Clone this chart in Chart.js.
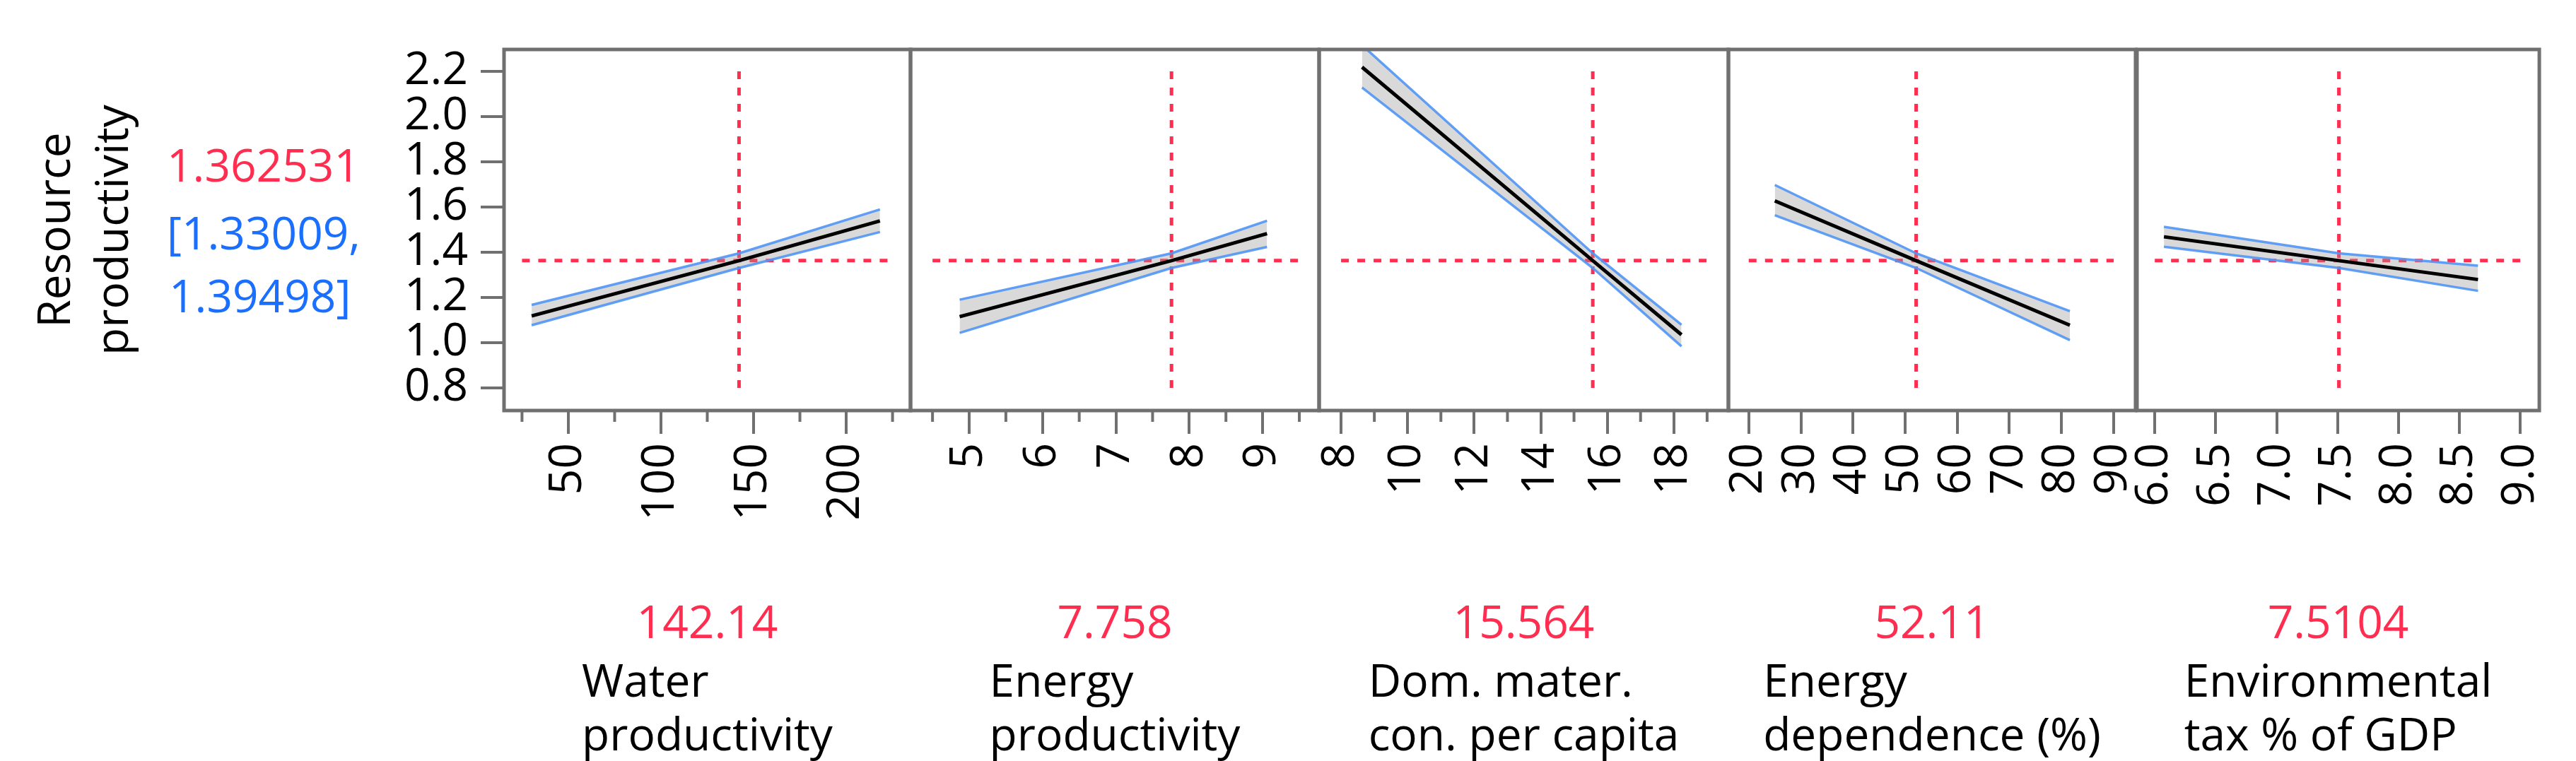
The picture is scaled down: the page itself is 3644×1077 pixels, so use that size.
<!DOCTYPE html>
<html>
<head>
<meta charset="utf-8">
<script src="https://cdn.jsdelivr.net/npm/chart.js@4.4.1/dist/chart.umd.min.js"></script>
<style>
  html, body { margin: 0; padding: 0; background: #fff; }
  #wrap { position: relative; width: 3644px; height: 1077px; overflow: hidden; }
  #wrap canvas { position: absolute; top: 0; }
</style>
</head>
<body>
<div id="wrap"></div>
<script>
// Prediction at the current settings and its confidence interval
const predicted = 1.362531;
const ciLow = 1.33009;
const ciHigh = 1.39498;

// Y axis ticks (shared by all panels)
const yTicks = [0.8, 1.0, 1.2, 1.4, 1.6, 1.8, 2.0, 2.2];
const yLabels = ['0.8', '1.0', '1.2', '1.4', '1.6', '1.8', '2.0', '2.2'];

// Factors
const factorNames = [
    ['Water', 'productivity'],
    ['Energy', 'productivity'],
    ['Dom. mater.', 'con. per capita'],
    ['Energy', 'dependence (%)'],
    ['Environmental', 'tax % of GDP']
];
const currentValues = [142.14, 7.758, 15.564, 52.11, 7.5104];
const currentLabels = ['142.14', '7.758', '15.564', '52.11', '7.5104'];

// Profile traces: x at (min, current, max), fitted value and CI bounds
const waterX = [30.2, 142.14, 218.2];
const waterFit = [1.118, predicted, 1.538];
const waterUpper = [1.167, ciHigh, 1.589];
const waterLower = [1.077, ciLow, 1.489];

const energyX = [4.87, 7.758, 9.06];
const energyFit = [1.115, predicted, 1.482];
const energyUpper = [1.19, ciHigh, 1.539];
const energyLower = [1.043, ciLow, 1.423];

const domX = [8.63, 15.564, 18.23];
const domFit = [2.218, predicted, 1.035];
const domUpper = [2.315, ciHigh, 1.079];
const domLower = [2.128, ciLow, 0.984];

const depX = [25.0, 52.11, 81.6];
const depFit = [1.627, predicted, 1.077];
const depUpper = [1.697, ciHigh, 1.139];
const depLower = [1.563, ciLow, 1.011];

const taxX = [6.075, 7.5104, 8.652];
const taxFit = [1.468, predicted, 1.279];
const taxUpper = [1.512, ciHigh, 1.34];
const taxLower = [1.424, ciLow, 1.229];

// X axis ticks
const waterTicks = [50, 100, 150, 200];
const waterTickLabels = ['50', '100', '150', '200'];
const waterMinor = [25, 75, 125, 175, 225];

const energyTicks = [5, 6, 7, 8, 9];
const energyTickLabels = ['5', '6', '7', '8', '9'];
const energyMinor = [4.5, 5.5, 6.5, 7.5, 8.5, 9.5];

const domTicks = [8, 10, 12, 14, 16, 18];
const domTickLabels = ['8', '10', '12', '14', '16', '18'];
const domMinor = [9, 11, 13, 15, 17, 19];

const depTicks = [20, 30, 40, 50, 60, 70, 80, 90];
const depTickLabels = ['20', '30', '40', '50', '60', '70', '80', '90'];
const depMinor = [];

const taxTicks = [6.0, 6.5, 7.0, 7.5, 8.0, 8.5, 9.0];
const taxTickLabels = ['6.0', '6.5', '7.0', '7.5', '8.0', '8.5', '9.0'];
const taxMinor = [];

const panels = [
    { x: waterX, fit: waterFit, upper: waterUpper, lower: waterLower, ticks: waterTicks, labels: waterTickLabels, minor: waterMinor },
    { x: energyX, fit: energyFit, upper: energyUpper, lower: energyLower, ticks: energyTicks, labels: energyTickLabels, minor: energyMinor },
    { x: domX, fit: domFit, upper: domUpper, lower: domLower, ticks: domTicks, labels: domTickLabels, minor: domMinor },
    { x: depX, fit: depFit, upper: depUpper, lower: depLower, ticks: depTicks, labels: depTickLabels, minor: depMinor },
    { x: taxX, fit: taxFit, upper: taxUpper, lower: taxLower, ticks: taxTicks, labels: taxTickLabels, minor: taxMinor }
];

// Layout (pixels) and axis ranges
const W = 3644, H = 1077;
const edges = [713, 1288, 1866, 2445, 3023, 3598];
const plotTop = 70, plotBottom = 581;
const xRanges = [[15.3, 234.7], [4.2, 9.77], [7.34, 19.64], [16.1, 94.2], [5.854, 9.155]];
const yRange = [0.70, 2.296];

const FONT = '"Open Sans", "Noto Sans", sans-serif';
const FS = 64;
const GRAY = '#707070';
const RED = '#ff2d4f';
const BLUE_TEXT = '#1a6fff';
const BLUE_LINE = 'rgba(80, 150, 245, 0.9)';
const BAND = 'rgba(150, 150, 150, 0.36)';

Chart.defaults.font.family = FONT;
Chart.defaults.font.size = FS;
Chart.defaults.color = '#000';

const pts = (xs, ys) => xs.map((v, i) => ({ x: v, y: ys[i] }));

const profilePlugin = {
    id: 'profile',
    afterDraw(chart, args, opts) {
        const { ctx, chartArea: a, scales: { x } } = chart;
        ctx.save();
        ctx.strokeStyle = GRAY;
        ctx.lineWidth = 4;
        // minor ticks
        opts.minor.forEach(v => {
            const px = x.getPixelForValue(v);
            ctx.beginPath();
            ctx.moveTo(px, a.bottom);
            ctx.lineTo(px, a.bottom + 16);
            ctx.stroke();
        });
        // frame
        ctx.lineWidth = 5;
        ctx.strokeRect(a.left, a.top, a.right - a.left, a.bottom - a.top);

        // current value and factor name under the panel
        const cx = (a.left + a.right) / 2;
        ctx.font = FS + 'px ' + FONT;
        ctx.textBaseline = 'alphabetic';
        ctx.fillStyle = RED;
        ctx.textAlign = 'center';
        ctx.fillText(opts.value, cx, 903);
        ctx.fillStyle = '#000';
        ctx.textAlign = 'left';
        const wMax = Math.max(...opts.name.map(s => ctx.measureText(s).width));
        opts.name.forEach((s, k) => ctx.fillText(s, cx - wMax / 2, 986 + k * 76));

        // prediction readout beside the first panel
        if (opts.readout) {
            ctx.fillStyle = RED;
            ctx.fillText(String(predicted), 236, 257);
            ctx.fillStyle = BLUE_TEXT;
            ctx.fillText('[' + ciLow + ',', 236, 353);
            ctx.fillText(ciHigh + ']', 239, 442);
        }
        ctx.restore();
    }
};

const wrap = document.getElementById('wrap');

panels.forEach((p, i) => {
    const first = i === 0;
    const left = first ? 0 : edges[i] - 60;
    const right = edges[i + 1] + 60;
    const cv = document.createElement('canvas');
    cv.width = right - left;
    cv.height = H;
    cv.style.left = left + 'px';
    cv.style.width = (right - left) + 'px';
    cv.style.height = H + 'px';
    wrap.appendChild(cv);

    const allX = p.ticks.concat(p.minor);
    const xStart = Math.min(...allX), xEnd = Math.max(...allX);
    const cur = currentValues[i];

    const yScale = {
        type: 'linear',
        min: yRange[0], max: yRange[1],
        display: first
    };
    if (first) {
        Object.assign(yScale, {
            afterBuildTicks: s => { s.ticks = yTicks.map(v => ({ value: v })); },
            afterFit: s => { s.width = edges[0]; },
            border: { display: false },
            grid: { drawOnChartArea: false, drawTicks: true, tickLength: 33, tickWidth: 4, lineWidth: 4, tickColor: GRAY },
            ticks: { autoSkip: false, padding: 18, callback: (v, k) => yLabels[k] },
            title: {
                display: true,
                text: ['Resource', 'productivity'],
                font: { size: FS, lineHeight: '82px' },
                padding: { top: 40, bottom: 0 }
            }
        });
    }

    new Chart(cv, {
        type: 'line',
        data: {
            datasets: [
                {   // horizontal reference at the prediction
                    data: [{ x: xStart, y: predicted }, { x: xEnd, y: predicted }],
                    borderColor: RED, borderWidth: 5, borderDash: [11, 12], order: 5
                },
                {   // vertical reference at the current setting
                    data: [{ x: cur, y: yTicks[0] }, { x: cur, y: yTicks[yTicks.length - 1] }],
                    borderColor: RED, borderWidth: 5, borderDash: [11, 12], order: 5
                },
                {
                    data: pts(p.x, p.lower),
                    borderColor: BLUE_LINE, borderWidth: 3.5, order: 3
                },
                {
                    data: pts(p.x, p.upper),
                    borderColor: BLUE_LINE, borderWidth: 3.5, order: 3,
                    fill: '-1', backgroundColor: BAND
                },
                {
                    data: pts(p.x, p.fit),
                    borderColor: '#000', borderWidth: 5, order: 1
                }
            ]
        },
        options: {
            responsive: false,
            animation: false,
            events: [],
            elements: { point: { radius: 0 }, line: { tension: 0, fill: false } },
            layout: { padding: { top: plotTop, bottom: 0, left: first ? 0 : 60, right: 60 } },
            scales: {
                x: {
                    type: 'linear',
                    min: xRanges[i][0], max: xRanges[i][1],
                    afterBuildTicks: s => { s.ticks = p.ticks.map(v => ({ value: v })); },
                    afterFit: s => { s.height = H - plotBottom; },
                    border: { display: false },
                    grid: { drawOnChartArea: false, drawTicks: true, tickLength: 33, tickWidth: 4, lineWidth: 4, tickColor: GRAY },
                    ticks: {
                        autoSkip: false, minRotation: 90, maxRotation: 90, padding: 13,
                        callback: (v, k) => p.labels[k]
                    }
                },
                y: yScale
            },
            plugins: {
                legend: { display: false },
                tooltip: { enabled: false },
                profile: { minor: p.minor, value: currentLabels[i], name: factorNames[i], readout: first }
            }
        },
        plugins: [profilePlugin]
    });
});
</script>
</body>
</html>
